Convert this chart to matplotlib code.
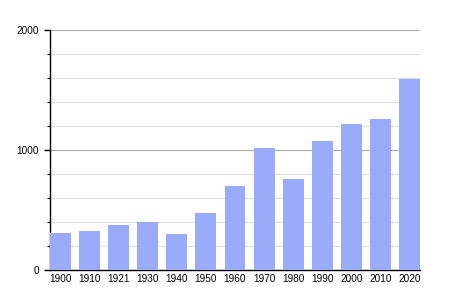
import numpy as np
import matplotlib.pyplot as plt

# Données
annees = ["1900", "1910", "1921", "1930", "1940", "1950", "1960",
          "1970", "1980", "1990", "2000", "2010", "2020"]
population = [306, 328, 375, 400, 300, 475, 700, 1019, 758, 1075, 1217, 1258, 1592]

plt.rcParams['font.family'] = ['Liberation Sans', 'DejaVu Sans']

fig = plt.figure(figsize=(4.5, 3), dpi=100)
ax = fig.add_axes([50/450, 30/300, 370/450, 240/300])

x = np.arange(len(annees))
ax.bar(x, population, width=0.72, color="#9aabfc", zorder=3)

ax.set_xlim(-0.36, len(annees) - 1 + 0.36)
ax.set_ylim(0, 2000)

ax.set_yticks([0, 1000, 2000])
ax.set_yticks(np.arange(200, 2000, 200), minor=True)
ax.set_xticks(x)
ax.set_xticklabels(annees)

# grille
ax.grid(axis='y', which='minor', color='#dddddd', linewidth=0.8, zorder=0)
ax.grid(axis='y', which='major', color='#aaaaaa', linewidth=0.8, zorder=0)
ax.grid(axis='x', visible=False)

for s in ['top', 'right']:
    ax.spines[s].set_visible(False)
ax.spines['left'].set_linewidth(1)
ax.spines['bottom'].set_linewidth(1)

ax.tick_params(axis='y', which='major', length=4, width=1, labelsize=7.2, pad=4)
ax.tick_params(axis='y', which='minor', length=2, width=0.8)
ax.tick_params(axis='x', length=0, labelsize=7.2, pad=3)

fig.savefig("out.png", dpi=100)
